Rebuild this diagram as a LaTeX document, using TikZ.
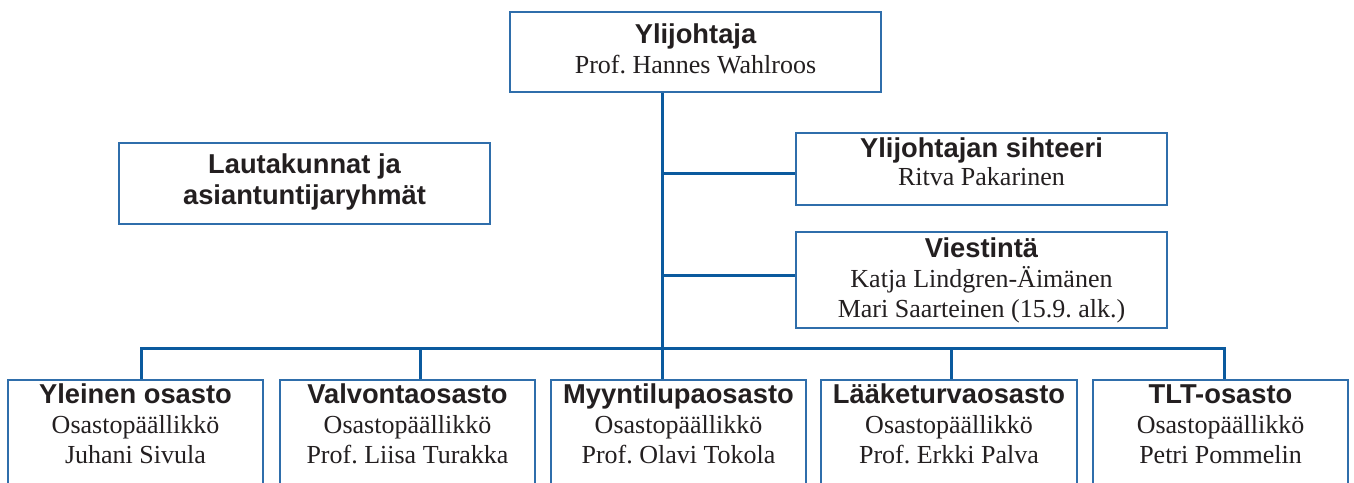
\documentclass[tikz,border=0pt]{standalone}
\usepackage{fontspec}
\setmainfont{Liberation Serif}
\newfontfamily\titlefont{Liberation Sans}
\definecolor{orgblue}{HTML}{0B5A9E}
\definecolor{boxblue}{HTML}{2F6EAB}
\definecolor{ink}{HTML}{231F20}
\frenchspacing
\newcommand\ttl[1]{{\titlefont\bfseries\fontsize{27.3}{30}\selectfont #1}}
\newcommand\sbt[1]{{\fontsize{26}{30}\selectfont #1}}
\newcommand\stack[2][30pt]{\vtop{\baselineskip=#1\lineskiplimit=-100pt\halign{\hfil##\hfil\cr#2\crcr}}}
\begin{document}
\begin{tikzpicture}[x=1pt,y=-1pt,
  box/.style={draw=boxblue, line width=1.6pt, fill=white, inner sep=0pt},
  txt/.style={anchor=base, inner sep=0pt, text=ink},
  conn/.style={draw=orgblue, line width=3pt}]
\useasboundingbox (0,0) rectangle (1354,482);
\clip (0,0) rectangle (1354,482);
% boxes
\node[box, minimum width=371pt, minimum height=80pt] (chief) at (695.5,52) {};
\node[box, minimum width=371pt, minimum height=81pt] (boards) at (304.5,183.5) {};
\node[box, minimum width=371pt, minimum height=72pt] (secr) at (981.5,169) {};
\node[box, minimum width=371pt, minimum height=96pt] (comm) at (981.5,280) {};
\node[box, minimum width=255pt, minimum height=140pt] (gen) at (135.5,450) {};
\node[box, minimum width=255pt, minimum height=140pt] (sup) at (407.5,450) {};
\node[box, minimum width=255pt, minimum height=140pt] (mark) at (678.5,450) {};
\node[box, minimum width=256pt, minimum height=140pt] (vig) at (949,450) {};
\node[box, minimum width=255pt, minimum height=140pt] (tlt) at (1220.5,450) {};
% texts
\node[txt] (chiefT) at (695.5,43) {\stack{\ttl{Ylijohtaja}\cr\sbt{Prof. Hannes Wahlroos}}};
\node[txt] (boardsT) at (304.5,173) {\stack[31pt]{\ttl{Lautakunnat ja}\cr\ttl{asiantuntijaryhmät}}};
\node[txt] (secrT) at (981.5,157) {\stack[28pt]{\ttl{Ylijohtajan sihteeri}\cr\sbt{Ritva Pakarinen}}};
\node[txt] (commT) at (981.5,257) {\stack{\ttl{Viestintä}\cr\sbt{Katja Lindgren-Äimänen}\cr\sbt{Mari Saarteinen (15.9. alk.)}}};
\node[txt] (genT) at (135.5,403) {\stack{\ttl{Yleinen osasto}\cr\sbt{Osastopäällikkö}\cr\sbt{Juhani Sivula}}};
\node[txt] (supT) at (407.5,403) {\stack{\ttl{Valvontaosasto}\cr\sbt{Osastopäällikkö}\cr\sbt{Prof. Liisa Turakka}}};
\node[txt] (markT) at (678.5,403) {\stack{\ttl{Myyntilupaosasto}\cr\sbt{Osastopäällikkö}\cr\sbt{Prof. Olavi Tokola}}};
\node[txt] (vigT) at (949,403) {\stack{\ttl{Lääketurvaosasto}\cr\sbt{Osastopäällikkö}\cr\sbt{Prof. Erkki Palva}}};
\node[txt] (tltT) at (1220.5,403) {\stack{\ttl{TLT-osasto}\cr\sbt{Osastopäällikkö}\cr\sbt{Petri Pommelin}}};
% connector points
\coordinate (tr) at (662,348);
\coordinate (s1) at (662,173);
\coordinate (s2) at (662,275);
\coordinate (b1) at (141,348);
\coordinate (b2) at (420,348);
\coordinate (b4) at (951,348);
\coordinate (b5) at (1224,348);
% connectors
\draw[conn] (tr |- chief.south) -- (tr) -- (tr |- mark.north);
\draw[conn] (s1) -- (s1 -| secr.west);
\draw[conn] (s2) -- (s2 -| comm.west);
\draw[conn] (b1 |- gen.north) -- (b1) -- (b5) -- (b5 |- tlt.north);
\draw[conn] (b2) -- (b2 |- sup.north);
\draw[conn] (b4) -- (b4 |- vig.north);
\end{tikzpicture}
\end{document}
